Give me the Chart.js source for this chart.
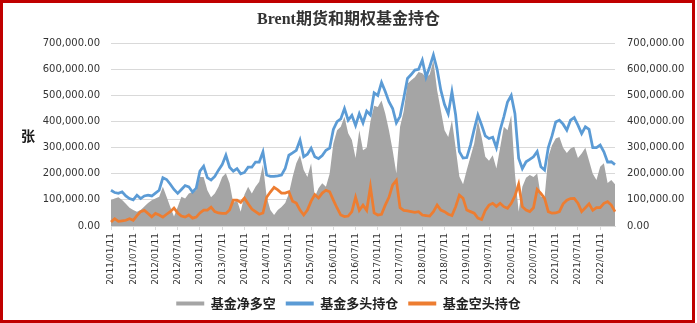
<!DOCTYPE html>
<html>
<head>
<meta charset="utf-8">
<script src="https://cdn.jsdelivr.net/npm/chart.js@4.4.1/dist/chart.umd.min.js"></script>
<style>
  body { margin: 0; background: #fff; }
  #wrap { position: relative; width: 697px; height: 323px; }
  #frame { position: absolute; left: 0; top: 0; width: 695px; height: 323px; box-sizing: border-box; border: 3px solid #c00000; pointer-events: none; }
</style>
</head>
<body>
<div id="wrap">
  <canvas id="myChart" width="697" height="323"></canvas>
  <div id="frame"></div>
</div>
<script>
// monthly readings, thousands of lots (Jan..Dec per row, 2011 -> 2022/05)
const net_k = [
  100, 105, 110, 100, 85, 70, 61, 55, 61, 75, 88, 99,
  105, 112, 150, 112, 73, 36, 73, 112, 105, 124, 130, 137,
  188, 188, 137, 110, 124, 150, 188, 202, 164, 88, 99, 55,
  120, 150, 124, 150, 169, 235, 112, 61, 42, 61, 73, 88,
  124, 188, 240, 271, 214, 188, 240, 112, 145, 164, 150, 200,
  316, 367, 380, 418, 355, 329, 260, 367, 290, 300, 400, 460,
  456, 481, 431, 367, 290, 201, 380, 440, 545, 558, 570, 590,
  585, 570, 580, 634, 520, 443, 367, 341, 405, 300, 190, 160,
  214, 265, 316, 405, 341, 265, 250, 271, 220, 300, 380, 367,
  424, 200, 55, 150, 185, 195, 188, 201, 112, 110, 265, 309,
  335, 341, 300, 280, 297, 303, 260, 278, 300, 250, 200, 176,
  227, 240, 165, 176, 160
];

const long_k = [
  137, 128, 125, 131, 115, 105, 100, 118, 105, 115, 118, 115,
  126, 137, 185, 178, 160, 140, 125, 140, 155, 150, 130, 145,
  210, 229, 185, 176, 190, 214, 235, 271, 225, 210, 220, 200,
  205, 225, 225, 245, 245, 284, 195, 190, 190, 192, 195, 220,
  271, 280, 290, 329, 265, 275, 298, 265, 258, 270, 290, 298,
  370, 400, 410, 450, 405, 424, 385, 430, 395, 440, 425, 510,
  500, 550, 515, 476, 450, 395, 420, 490, 565, 580, 597, 600,
  635, 570, 610, 655, 600, 520, 465, 430, 514, 425, 285, 260,
  262, 310, 370, 425, 387, 345, 335, 340, 300, 367, 418, 475,
  500, 430, 260, 220, 246, 255, 265, 285, 227, 214, 300, 345,
  398, 405, 390, 367, 405, 415, 386, 354, 380, 370, 300, 300,
  310, 284, 245, 246, 235
];

const short_k = [
  15, 28, 18, 20, 22, 28, 22, 40, 55, 60, 48, 35,
  48, 42, 34, 45, 55, 69, 50, 38, 34, 42, 30, 34,
  50, 61, 61, 72, 55, 50, 48, 48, 61, 99, 99, 90,
  107, 85, 65, 55, 45, 50, 110, 130, 148, 138, 126, 126,
  131, 95, 88, 61, 42, 61, 95, 120, 107, 126, 137, 131,
  99, 69, 42, 36, 38, 55, 110, 60, 80, 60, 150, 50,
  42, 45, 80, 110, 157, 175, 70, 60, 58, 55, 52, 55,
  42, 40, 38, 55, 80, 61, 55, 45, 40, 74, 118, 106,
  61, 55, 49, 30, 25, 60, 80, 87, 75, 87, 74, 68,
  87, 115, 160, 74, 61, 55, 70, 140, 125, 106, 55, 49,
  50, 55, 85, 99, 105, 106, 87, 55, 70, 85, 60, 70,
  70, 87, 93, 80, 55
];

const series_names = ["基金净多空", "基金多头持仓", "基金空头持仓"];
const y_ticks = [0, 100000, 200000, 300000, 400000, 500000, 600000, 700000];

// date labels, one per month
let labels = [];
for (let i = 0; i < net_k.length; i++) {
  const year = 2011 + Math.floor(i / 12);
  const month = (i % 12) + 1;
  labels.push(year + "/" + (month < 10 ? "0" + month : month) + "/11");
}

function toLots(arr) {
  return arr.map(function (v) { return v * 1000; });
}

function fmtNum(v) {
  return v.toLocaleString("en-US", { minimumFractionDigits: 2, maximumFractionDigits: 2 });
}

const axisTitle = {
  id: "axisTitle",
  afterDraw(chart) {
    const c = chart.ctx;
    c.save();
    c.font = 'bold 14px "Noto Sans CJK SC"';
    c.fillStyle = "#1a1a1a";
    c.textAlign = "center";
    c.textBaseline = "middle";
    c.fillText("张", 28, 136);
    c.restore();
  }
};

const labelFont = { family: '"DejaVu Sans"', size: 10 };

const ctx = document.getElementById("myChart").getContext("2d");
const myChart = new Chart(ctx, {
  type: "line",
  data: {
    labels: labels,
    datasets: [
      {
        label: series_names[0],
        data: toLots(net_k),
        fill: "origin",
        backgroundColor: "#a5a5a5",
        borderColor: "#a5a5a5",
        borderWidth: 0,
        pointRadius: 0,
        tension: 0,
        order: 3,
      },
      {
        label: series_names[1],
        data: toLots(long_k),
        fill: false,
        borderColor: "#5b9bd5",
        backgroundColor: "#5b9bd5",
        borderWidth: 2.75,
        pointRadius: 0,
        tension: 0,
        order: 2,
      },
      {
        label: series_names[2],
        data: toLots(short_k),
        fill: false,
        borderColor: "#ed7d31",
        backgroundColor: "#ed7d31",
        borderWidth: 2.75,
        pointRadius: 0,
        tension: 0,
        order: 1,
      },
    ],
  },
  options: {
    responsive: false,
    animation: false,
    devicePixelRatio: 1,
    layout: { padding: { left: 0, right: 0, top: 0, bottom: 3 } },
    plugins: {
      title: {
        display: true,
        text: "Brent期货和期权基金持仓",
        color: "#333",
        font: { family: '"Liberation Serif", "Noto Sans CJK SC"', size: 16, weight: "bold" },
        padding: { top: 10, bottom: 14 },
      },
      legend: {
        position: "bottom",
        labels: {
          boxWidth: 28,
          boxHeight: 4,
          padding: 10,
          color: "#222",
          font: { family: '"Noto Sans CJK SC"', size: 13, weight: "bold" },
          sort: function (a, b) { return a.datasetIndex - b.datasetIndex; },
          generateLabels: function (chart) {
            const items = Chart.defaults.plugins.legend.labels.generateLabels(chart);
            items.forEach(function (it) {
              const ds = chart.data.datasets[it.datasetIndex];
              it.fillStyle = ds.borderColor;
              it.strokeStyle = ds.borderColor;
              it.lineWidth = 0;
            });
            return items;
          },
        },
      },
      tooltip: { enabled: false },
    },
    scales: {
      x: {
        grid: { display: true, drawOnChartArea: false, drawTicks: true, tickLength: 4, color: "#d9d9d9" },
        border: { color: "#d9d9d9" },
        ticks: {
          autoSkip: false,
          minRotation: 90,
          maxRotation: 90,
          padding: 3,
          color: "#333",
          font: { family: '"DejaVu Sans"', size: 9 },
          callback: function (value, index) {
            return index % 6 === 0 ? labels[index] : null;
          },
        },
        afterFit: function (scale) { scale.height = 61; },
      },
      y: {
        position: "left",
        min: y_ticks[0],
        max: y_ticks[y_ticks.length - 1],
        grid: { color: "#d9d9d9", drawTicks: false },
        border: { display: false },
        ticks: { stepSize: 100000, padding: 11, color: "#333", font: labelFont, callback: fmtNum },
        afterFit: function (scale) { scale.width = 111; },
      },
      y2: {
        position: "right",
        min: y_ticks[0],
        max: y_ticks[y_ticks.length - 1],
        grid: { display: false, drawTicks: false },
        border: { display: false },
        ticks: { stepSize: 100000, padding: 12, color: "#333", font: labelFont, callback: fmtNum },
        afterFit: function (scale) { scale.width = 82; },
      },
    },
  },
  plugins: [axisTitle],
});
</script>
</body>
</html>
